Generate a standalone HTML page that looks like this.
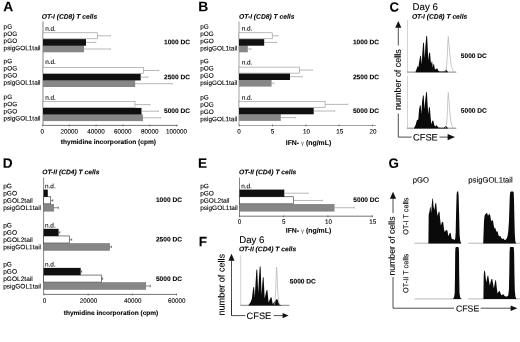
<!DOCTYPE html>
<html><head><meta charset="utf-8"><title>Figure</title>
<style>
html,body{margin:0;padding:0;background:#fff;}
body{width:520px;height:342px;overflow:hidden;font-family:'Liberation Sans', sans-serif;}
svg{display:block;font-family:"Liberation Sans",sans-serif;filter:blur(0.35px);}
</style></head><body>
<svg width="520" height="342" viewBox="0 0 520 342" font-family="'Liberation Sans', sans-serif" text-rendering="geometricPrecision">
<rect x="0" y="0" width="520" height="342" fill="#fff"/>
<text transform="translate(3.3,11.2) rotate(0.03)" font-size="13.8" font-weight="bold" font-style="normal" text-anchor="start" fill="#000"  stroke="#000" stroke-width="0.08">A</text>
<text transform="translate(41.8,18.8) rotate(0.03)" font-size="6.7" font-weight="bold" font-style="italic" text-anchor="start" fill="#000"  stroke="#000" stroke-width="0.08">OT-I (CD8) T cells</text>
<line x1="43.00" y1="21.50" x2="43.00" y2="125.40" stroke="#666" stroke-width="0.8"/>
<line x1="43.00" y1="125.40" x2="177.50" y2="125.40" stroke="#666" stroke-width="0.9"/>
<line x1="42.40" y1="124.70" x2="42.40" y2="126.40" stroke="#444" stroke-width="0.7"/>
<line x1="69.25" y1="124.70" x2="69.25" y2="126.40" stroke="#444" stroke-width="0.7"/>
<line x1="96.10" y1="124.70" x2="96.10" y2="126.40" stroke="#444" stroke-width="0.7"/>
<line x1="122.95" y1="124.70" x2="122.95" y2="126.40" stroke="#444" stroke-width="0.7"/>
<line x1="149.80" y1="124.70" x2="149.80" y2="126.40" stroke="#444" stroke-width="0.7"/>
<line x1="176.65" y1="124.70" x2="176.65" y2="126.40" stroke="#444" stroke-width="0.7"/>
<text transform="translate(3.6,28.8) rotate(0.03)" font-size="6.4" font-weight="normal" font-style="normal" text-anchor="start" fill="#000"  stroke="#000" stroke-width="0.1">pG</text>
<text transform="translate(3.6,35.95) rotate(0.03)" font-size="6.4" font-weight="normal" font-style="normal" text-anchor="start" fill="#000"  stroke="#000" stroke-width="0.1">pOG</text>
<text transform="translate(3.6,43.1) rotate(0.03)" font-size="6.4" font-weight="normal" font-style="normal" text-anchor="start" fill="#000"  stroke="#000" stroke-width="0.1">pGO</text>
<text transform="translate(3.6,50.25) rotate(0.03)" font-size="6.4" font-weight="normal" font-style="normal" text-anchor="start" fill="#000"  stroke="#000" stroke-width="0.1">psigGOL1tail</text>
<text transform="translate(45.2,30.7) rotate(0.03)" font-size="6.4" font-weight="normal" font-style="normal" text-anchor="start" fill="#000"  stroke="#000" stroke-width="0.1">n.d.</text>
<rect x="43.00" y="44.90" width="41.00" height="0.90" fill="#878787"/>
<rect x="43.00" y="45.70" width="41.00" height="6.60" fill="#878787"/>
<line x1="84.00" y1="49.00" x2="110.40" y2="49.00" stroke="#999" stroke-width="0.7"/>
<line x1="110.40" y1="48.10" x2="110.40" y2="49.90" stroke="#aaa" stroke-width="0.6"/>
<rect x="43.00" y="39.10" width="43.00" height="6.60" fill="#101010"/>
<line x1="86.00" y1="42.40" x2="95.80" y2="42.40" stroke="#999" stroke-width="0.7"/>
<line x1="95.80" y1="41.50" x2="95.80" y2="43.30" stroke="#aaa" stroke-width="0.6"/>
<rect x="43.00" y="32.80" width="54.50" height="6.00" fill="#fff" stroke="#858585" stroke-width="0.55"/>
<line x1="97.80" y1="35.80" x2="110.40" y2="35.80" stroke="#999" stroke-width="0.7"/>
<line x1="110.40" y1="34.90" x2="110.40" y2="36.70" stroke="#aaa" stroke-width="0.6"/>
<text transform="translate(164.0,44.2) rotate(0.03)" font-size="6.6" font-weight="bold" font-style="normal" text-anchor="start" fill="#000"  stroke="#000" stroke-width="0.08">1000 DC</text>
<text transform="translate(3.6,63.3) rotate(0.03)" font-size="6.4" font-weight="normal" font-style="normal" text-anchor="start" fill="#000"  stroke="#000" stroke-width="0.1">pG</text>
<text transform="translate(3.6,70.45) rotate(0.03)" font-size="6.4" font-weight="normal" font-style="normal" text-anchor="start" fill="#000"  stroke="#000" stroke-width="0.1">pOG</text>
<text transform="translate(3.6,77.6) rotate(0.03)" font-size="6.4" font-weight="normal" font-style="normal" text-anchor="start" fill="#000"  stroke="#000" stroke-width="0.1">pGO</text>
<text transform="translate(3.6,84.75) rotate(0.03)" font-size="6.4" font-weight="normal" font-style="normal" text-anchor="start" fill="#000"  stroke="#000" stroke-width="0.1">psigGOL1tail</text>
<text transform="translate(45.2,64.1) rotate(0.03)" font-size="6.4" font-weight="normal" font-style="normal" text-anchor="start" fill="#000"  stroke="#000" stroke-width="0.1">n.d.</text>
<rect x="43.00" y="79.60" width="92.20" height="0.90" fill="#878787"/>
<rect x="43.00" y="80.40" width="92.20" height="6.60" fill="#878787"/>
<line x1="135.20" y1="83.70" x2="172.30" y2="83.70" stroke="#999" stroke-width="0.7"/>
<line x1="172.30" y1="82.80" x2="172.30" y2="84.60" stroke="#aaa" stroke-width="0.6"/>
<rect x="43.00" y="73.80" width="97.70" height="6.60" fill="#101010"/>
<line x1="140.70" y1="77.10" x2="148.00" y2="77.10" stroke="#999" stroke-width="0.7"/>
<line x1="148.00" y1="76.20" x2="148.00" y2="78.00" stroke="#aaa" stroke-width="0.6"/>
<rect x="43.00" y="67.50" width="100.50" height="6.00" fill="#fff" stroke="#858585" stroke-width="0.55"/>
<line x1="143.80" y1="70.50" x2="158.90" y2="70.50" stroke="#999" stroke-width="0.7"/>
<line x1="158.90" y1="69.60" x2="158.90" y2="71.40" stroke="#aaa" stroke-width="0.6"/>
<text transform="translate(164.0,79.2) rotate(0.03)" font-size="6.6" font-weight="bold" font-style="normal" text-anchor="start" fill="#000"  stroke="#000" stroke-width="0.08">2500 DC</text>
<text transform="translate(3.6,99.1) rotate(0.03)" font-size="6.4" font-weight="normal" font-style="normal" text-anchor="start" fill="#000"  stroke="#000" stroke-width="0.1">pG</text>
<text transform="translate(3.6,106.25) rotate(0.03)" font-size="6.4" font-weight="normal" font-style="normal" text-anchor="start" fill="#000"  stroke="#000" stroke-width="0.1">pOG</text>
<text transform="translate(3.6,113.39999999999999) rotate(0.03)" font-size="6.4" font-weight="normal" font-style="normal" text-anchor="start" fill="#000"  stroke="#000" stroke-width="0.1">pGO</text>
<text transform="translate(3.6,120.55) rotate(0.03)" font-size="6.4" font-weight="normal" font-style="normal" text-anchor="start" fill="#000"  stroke="#000" stroke-width="0.1">psigGOL1tail</text>
<text transform="translate(45.2,99.8) rotate(0.03)" font-size="6.4" font-weight="normal" font-style="normal" text-anchor="start" fill="#000"  stroke="#000" stroke-width="0.1">n.d.</text>
<rect x="43.00" y="113.70" width="98.50" height="0.90" fill="#878787"/>
<rect x="43.00" y="114.50" width="100.00" height="6.60" fill="#878787"/>
<line x1="143.00" y1="117.80" x2="160.60" y2="117.80" stroke="#999" stroke-width="0.7"/>
<line x1="160.60" y1="116.90" x2="160.60" y2="118.70" stroke="#aaa" stroke-width="0.6"/>
<rect x="43.00" y="107.90" width="98.50" height="6.60" fill="#101010"/>
<line x1="141.50" y1="111.20" x2="158.50" y2="111.20" stroke="#999" stroke-width="0.7"/>
<line x1="158.50" y1="110.30" x2="158.50" y2="112.10" stroke="#aaa" stroke-width="0.6"/>
<rect x="43.00" y="101.60" width="92.00" height="6.00" fill="#fff" stroke="#858585" stroke-width="0.55"/>
<line x1="135.30" y1="104.60" x2="150.00" y2="104.60" stroke="#999" stroke-width="0.7"/>
<line x1="150.00" y1="103.70" x2="150.00" y2="105.50" stroke="#aaa" stroke-width="0.6"/>
<text transform="translate(164.0,113.1) rotate(0.03)" font-size="6.6" font-weight="bold" font-style="normal" text-anchor="start" fill="#000"  stroke="#000" stroke-width="0.08">5000 DC</text>
<text transform="translate(42.3,133.5) rotate(0.03)" font-size="6.3" font-weight="normal" font-style="normal" text-anchor="middle" fill="#000"  stroke="#000" stroke-width="0.1">0</text>
<text transform="translate(69.15,133.5) rotate(0.03)" font-size="6.3" font-weight="normal" font-style="normal" text-anchor="middle" fill="#000"  stroke="#000" stroke-width="0.1">20000</text>
<text transform="translate(96.0,133.5) rotate(0.03)" font-size="6.3" font-weight="normal" font-style="normal" text-anchor="middle" fill="#000"  stroke="#000" stroke-width="0.1">40000</text>
<text transform="translate(122.85000000000001,133.5) rotate(0.03)" font-size="6.3" font-weight="normal" font-style="normal" text-anchor="middle" fill="#000"  stroke="#000" stroke-width="0.1">60000</text>
<text transform="translate(149.7,133.5) rotate(0.03)" font-size="6.3" font-weight="normal" font-style="normal" text-anchor="middle" fill="#000"  stroke="#000" stroke-width="0.1">80000</text>
<text transform="translate(176.55,133.5) rotate(0.03)" font-size="6.3" font-weight="normal" font-style="normal" text-anchor="middle" fill="#000"  stroke="#000" stroke-width="0.1">100000</text>
<text transform="translate(108.4,144.1) rotate(0.03)" font-size="6.6" font-weight="bold" font-style="normal" text-anchor="middle" fill="#000"  stroke="#000" stroke-width="0.08">thymidine incorporation (cpm)</text>
<text transform="translate(198.3,11.3) rotate(0.03)" font-size="13.8" font-weight="bold" font-style="normal" text-anchor="start" fill="#000"  stroke="#000" stroke-width="0.08">B</text>
<text transform="translate(239.0,18.8) rotate(0.03)" font-size="6.7" font-weight="bold" font-style="italic" text-anchor="start" fill="#000"  stroke="#000" stroke-width="0.08">OT-I (CD8) T cells</text>
<line x1="239.00" y1="21.50" x2="239.00" y2="125.30" stroke="#8a8a8a" stroke-width="0.8"/>
<line x1="239.00" y1="125.50" x2="376.00" y2="125.50" stroke="#999" stroke-width="0.9"/>
<line x1="239.20" y1="124.60" x2="239.20" y2="126.30" stroke="#444" stroke-width="0.7"/>
<line x1="272.50" y1="124.60" x2="272.50" y2="126.30" stroke="#444" stroke-width="0.7"/>
<line x1="305.80" y1="124.60" x2="305.80" y2="126.30" stroke="#444" stroke-width="0.7"/>
<line x1="339.10" y1="124.60" x2="339.10" y2="126.30" stroke="#444" stroke-width="0.7"/>
<line x1="372.40" y1="124.60" x2="372.40" y2="126.30" stroke="#444" stroke-width="0.7"/>
<text transform="translate(200.3,28.7) rotate(0.03)" font-size="6.4" font-weight="normal" font-style="normal" text-anchor="start" fill="#000"  stroke="#000" stroke-width="0.1">pG</text>
<text transform="translate(200.3,35.95) rotate(0.03)" font-size="6.4" font-weight="normal" font-style="normal" text-anchor="start" fill="#000"  stroke="#000" stroke-width="0.1">pOG</text>
<text transform="translate(200.3,43.2) rotate(0.03)" font-size="6.4" font-weight="normal" font-style="normal" text-anchor="start" fill="#000"  stroke="#000" stroke-width="0.1">pGO</text>
<text transform="translate(200.3,50.45) rotate(0.03)" font-size="6.4" font-weight="normal" font-style="normal" text-anchor="start" fill="#000"  stroke="#000" stroke-width="0.1">psigGOL1tail</text>
<text transform="translate(241.7,30.4) rotate(0.03)" font-size="6.4" font-weight="normal" font-style="normal" text-anchor="start" fill="#000"  stroke="#000" stroke-width="0.1">n.d.</text>
<rect x="239.00" y="44.90" width="8.80" height="0.90" fill="#878787"/>
<rect x="239.00" y="45.70" width="8.80" height="6.60" fill="#878787"/>
<line x1="247.80" y1="49.00" x2="251.00" y2="49.00" stroke="#999" stroke-width="0.7"/>
<line x1="251.00" y1="48.10" x2="251.00" y2="49.90" stroke="#aaa" stroke-width="0.6"/>
<rect x="239.00" y="39.10" width="25.20" height="6.60" fill="#101010"/>
<line x1="264.20" y1="42.40" x2="276.70" y2="42.40" stroke="#999" stroke-width="0.7"/>
<line x1="276.70" y1="41.50" x2="276.70" y2="43.30" stroke="#aaa" stroke-width="0.6"/>
<rect x="239.00" y="32.80" width="33.20" height="6.00" fill="#fff" stroke="#858585" stroke-width="0.55"/>
<line x1="272.50" y1="35.80" x2="278.00" y2="35.80" stroke="#999" stroke-width="0.7"/>
<line x1="278.00" y1="34.90" x2="278.00" y2="36.70" stroke="#aaa" stroke-width="0.6"/>
<text transform="translate(352.9,44.2) rotate(0.03)" font-size="6.6" font-weight="bold" font-style="normal" text-anchor="start" fill="#000"  stroke="#000" stroke-width="0.08">1000 DC</text>
<text transform="translate(200.3,63.3) rotate(0.03)" font-size="6.4" font-weight="normal" font-style="normal" text-anchor="start" fill="#000"  stroke="#000" stroke-width="0.1">pG</text>
<text transform="translate(200.3,70.55) rotate(0.03)" font-size="6.4" font-weight="normal" font-style="normal" text-anchor="start" fill="#000"  stroke="#000" stroke-width="0.1">pOG</text>
<text transform="translate(200.3,77.8) rotate(0.03)" font-size="6.4" font-weight="normal" font-style="normal" text-anchor="start" fill="#000"  stroke="#000" stroke-width="0.1">pGO</text>
<text transform="translate(200.3,85.05) rotate(0.03)" font-size="6.4" font-weight="normal" font-style="normal" text-anchor="start" fill="#000"  stroke="#000" stroke-width="0.1">psigGOL1tail</text>
<text transform="translate(241.7,64.5) rotate(0.03)" font-size="6.4" font-weight="normal" font-style="normal" text-anchor="start" fill="#000"  stroke="#000" stroke-width="0.1">n.d.</text>
<rect x="239.00" y="79.20" width="32.60" height="0.90" fill="#878787"/>
<rect x="239.00" y="80.00" width="32.60" height="6.60" fill="#878787"/>
<line x1="271.60" y1="83.30" x2="273.70" y2="83.30" stroke="#999" stroke-width="0.7"/>
<line x1="273.70" y1="82.40" x2="273.70" y2="84.20" stroke="#aaa" stroke-width="0.6"/>
<rect x="239.00" y="73.40" width="51.00" height="6.60" fill="#101010"/>
<line x1="290.00" y1="76.70" x2="302.10" y2="76.70" stroke="#999" stroke-width="0.7"/>
<line x1="302.10" y1="75.80" x2="302.10" y2="77.60" stroke="#aaa" stroke-width="0.6"/>
<rect x="239.00" y="67.10" width="60.40" height="6.00" fill="#fff" stroke="#858585" stroke-width="0.55"/>
<line x1="299.70" y1="70.10" x2="312.30" y2="70.10" stroke="#999" stroke-width="0.7"/>
<line x1="312.30" y1="69.20" x2="312.30" y2="71.00" stroke="#aaa" stroke-width="0.6"/>
<text transform="translate(352.9,79.2) rotate(0.03)" font-size="6.6" font-weight="bold" font-style="normal" text-anchor="start" fill="#000"  stroke="#000" stroke-width="0.08">2500 DC</text>
<text transform="translate(200.3,99.6) rotate(0.03)" font-size="6.4" font-weight="normal" font-style="normal" text-anchor="start" fill="#000"  stroke="#000" stroke-width="0.1">pG</text>
<text transform="translate(200.3,106.85) rotate(0.03)" font-size="6.4" font-weight="normal" font-style="normal" text-anchor="start" fill="#000"  stroke="#000" stroke-width="0.1">pOG</text>
<text transform="translate(200.3,114.1) rotate(0.03)" font-size="6.4" font-weight="normal" font-style="normal" text-anchor="start" fill="#000"  stroke="#000" stroke-width="0.1">pGO</text>
<text transform="translate(200.3,121.35) rotate(0.03)" font-size="6.4" font-weight="normal" font-style="normal" text-anchor="start" fill="#000"  stroke="#000" stroke-width="0.1">psigGOL1tail</text>
<text transform="translate(241.7,99.8) rotate(0.03)" font-size="6.4" font-weight="normal" font-style="normal" text-anchor="start" fill="#000"  stroke="#000" stroke-width="0.1">n.d.</text>
<rect x="239.00" y="113.50" width="41.80" height="0.90" fill="#878787"/>
<rect x="239.00" y="114.30" width="41.80" height="6.60" fill="#878787"/>
<line x1="280.80" y1="117.60" x2="295.50" y2="117.60" stroke="#999" stroke-width="0.7"/>
<line x1="295.50" y1="116.70" x2="295.50" y2="118.50" stroke="#aaa" stroke-width="0.6"/>
<rect x="239.00" y="107.70" width="74.70" height="6.60" fill="#101010"/>
<line x1="313.70" y1="111.00" x2="334.60" y2="111.00" stroke="#999" stroke-width="0.7"/>
<line x1="334.60" y1="110.10" x2="334.60" y2="111.90" stroke="#aaa" stroke-width="0.6"/>
<rect x="239.00" y="101.40" width="86.10" height="6.00" fill="#fff" stroke="#858585" stroke-width="0.55"/>
<line x1="325.40" y1="104.40" x2="347.80" y2="104.40" stroke="#999" stroke-width="0.7"/>
<line x1="347.80" y1="103.50" x2="347.80" y2="105.30" stroke="#aaa" stroke-width="0.6"/>
<text transform="translate(352.9,113.1) rotate(0.03)" font-size="6.6" font-weight="bold" font-style="normal" text-anchor="start" fill="#000"  stroke="#000" stroke-width="0.08">5000 DC</text>
<text transform="translate(239.1,133.4) rotate(0.03)" font-size="6.3" font-weight="normal" font-style="normal" text-anchor="middle" fill="#000"  stroke="#000" stroke-width="0.1">0</text>
<text transform="translate(272.4,133.4) rotate(0.03)" font-size="6.3" font-weight="normal" font-style="normal" text-anchor="middle" fill="#000"  stroke="#000" stroke-width="0.1">5</text>
<text transform="translate(306.4,133.4) rotate(0.03)" font-size="6.3" font-weight="normal" font-style="normal" text-anchor="middle" fill="#000"  stroke="#000" stroke-width="0.1">10</text>
<text transform="translate(339.7,133.4) rotate(0.03)" font-size="6.3" font-weight="normal" font-style="normal" text-anchor="middle" fill="#000"  stroke="#000" stroke-width="0.1">15</text>
<text transform="translate(372.99999999999994,133.4) rotate(0.03)" font-size="6.3" font-weight="normal" font-style="normal" text-anchor="middle" fill="#000"  stroke="#000" stroke-width="0.1">20</text>
<text transform="translate(308.5,145.0) rotate(0.03)" font-size="6.9" font-weight="bold" font-style="normal" text-anchor="middle" fill="#000"  stroke="#000" stroke-width="0.08">IFN- <tspan font-weight="normal" font-size="6" fill="#555" stroke="none">γ</tspan> (ng/mL)</text>
<text transform="translate(389.4,11.6) rotate(0.03)" font-size="13.2" font-weight="bold" font-style="normal" text-anchor="start" fill="#000"  stroke="#000" stroke-width="0.08">C</text>
<text transform="translate(412.5,10.1) rotate(0.03)" font-size="9.7" font-weight="normal" font-style="normal" text-anchor="start" fill="#000"  stroke="#000" stroke-width="0.1">Day 6</text>
<text transform="translate(411.9,18.8) rotate(0.03)" font-size="6.7" font-weight="bold" font-style="italic" text-anchor="start" fill="#000"  stroke="#000" stroke-width="0.08">OT-I (CD8) T cells</text>
<polygon points="398.3,21.0 395.2,27.7 401.40000000000003,27.7" fill="#111"/>
<line x1="398.30" y1="27.20" x2="398.30" y2="45.50" stroke="#222" stroke-width="0.8"/>
<text transform="translate(400.7,109.9) rotate(-89.97)" font-size="8.95" font-weight="normal" fill="#000" stroke="#000" stroke-width="0.1">number of cells</text>
<polyline points="398.3,113.5 398.3,137.1 411.6,137.1" fill="none" stroke="#222" stroke-width="0.8"/>
<text transform="translate(413.0,140.5) rotate(0.03)" font-size="9.3" font-weight="normal" font-style="normal" text-anchor="start" fill="#000"  stroke="#000" stroke-width="0.1">CFSE</text>
<line x1="439.50" y1="137.10" x2="448.10" y2="137.10" stroke="#222" stroke-width="0.8"/>
<polygon points="455.0,137.1 447.6,133.9 447.6,140.29999999999998" fill="#111"/>
<line x1="407.50" y1="20.00" x2="407.50" y2="72.10" stroke="#c0c0c0" stroke-width="0.7"/>
<line x1="407.00" y1="72.10" x2="456.30" y2="72.10" stroke="#666" stroke-width="0.8"/>
<polygon points="415.4,72.3 416.6,69.0 417.6,66.0 418.4,67.2 419.3,61.0 420.2,56.0 420.9,55.6 421.7,64.5 422.3,54.0 423.1,43.0 423.9,42.4 424.7,58.5 425.4,46.0 426.3,36.2 427.1,35.8 427.9,52.0 428.5,60.5 429.1,53.0 430.0,52.2 430.8,62.0 431.4,63.6 432.0,60.3 432.8,67.5 433.4,64.2 434.0,64.0 434.8,68.8 435.7,69.6 436.6,68.4 437.4,68.6 438.2,70.6 439.5,71.4 444.0,71.5 445.1,70.6 446.0,69.6 447.1,70.8 448.1,72.3" fill="#0a0a0a"/>
<polyline points="445.0,71.9 446.3,69.5 447.2,58.0 447.8,43.5 448.3,36.6 448.9,43.5 449.8,54.0 451.2,65.0 452.6,69.8 454.4,71.9" fill="none" stroke="#b2b2b2" stroke-width="0.7" stroke-linejoin="round"/>
<text transform="translate(460.8,58.0) rotate(0.03)" font-size="6.6" font-weight="bold" font-style="normal" text-anchor="start" fill="#000"  stroke="#000" stroke-width="0.08">5000 DC</text>
<line x1="407.50" y1="75.80" x2="407.50" y2="128.20" stroke="#c0c0c0" stroke-width="0.7"/>
<line x1="407.00" y1="128.20" x2="456.30" y2="128.20" stroke="#666" stroke-width="0.8"/>
<polygon points="413.8,128.4 415.6,125.0 416.9,120.3 418.3,119.4 419.1,109.5 419.9,105.4 420.7,105.2 421.4,114.0 422.0,103.0 422.9,95.8 423.7,95.3 424.5,109.0 425.2,100.5 426.1,92.5 426.9,92.1 427.7,106.0 428.3,114.5 428.9,107.5 429.8,106.9 430.5,116.0 431.3,124.2 432.3,121.0 433.2,120.3 434.3,125.2 435.4,126.6 436.3,125.3 437.0,125.5 438.0,127.2 439.7,127.7 443.8,127.7 445.0,126.7 445.9,125.7 447.0,127.0 448.1,128.4" fill="#0a0a0a"/>
<polyline points="445.4,128.0 446.5,125.5 447.3,114.0 447.8,99.5 448.3,92.6 448.9,99.5 449.7,110.0 450.8,121.0 452.0,125.8 453.6,128.0" fill="none" stroke="#b2b2b2" stroke-width="0.7" stroke-linejoin="round"/>
<text transform="translate(460.8,112.8) rotate(0.03)" font-size="6.6" font-weight="bold" font-style="normal" text-anchor="start" fill="#000"  stroke="#000" stroke-width="0.08">5000 DC</text>
<text transform="translate(2.8,167.7) rotate(0.03)" font-size="13.6" font-weight="bold" font-style="normal" text-anchor="start" fill="#000"  stroke="#000" stroke-width="0.08">D</text>
<text transform="translate(42.2,174.2) rotate(0.03)" font-size="6.7" font-weight="bold" font-style="italic" text-anchor="start" fill="#000"  stroke="#000" stroke-width="0.08">OT-II (CD4) T cells</text>
<line x1="43.60" y1="177.50" x2="43.60" y2="294.40" stroke="#666" stroke-width="0.8"/>
<line x1="43.60" y1="294.40" x2="177.00" y2="294.40" stroke="#666" stroke-width="0.9"/>
<line x1="44.00" y1="293.70" x2="44.00" y2="295.40" stroke="#444" stroke-width="0.7"/>
<line x1="88.15" y1="293.70" x2="88.15" y2="295.40" stroke="#444" stroke-width="0.7"/>
<line x1="132.30" y1="293.70" x2="132.30" y2="295.40" stroke="#444" stroke-width="0.7"/>
<line x1="176.45" y1="293.70" x2="176.45" y2="295.40" stroke="#444" stroke-width="0.7"/>
<text transform="translate(3.2,188.2) rotate(0.03)" font-size="6.55" font-weight="normal" font-style="normal" text-anchor="start" fill="#000"  stroke="#000" stroke-width="0.1">pG</text>
<text transform="translate(3.2,195.5) rotate(0.03)" font-size="6.55" font-weight="normal" font-style="normal" text-anchor="start" fill="#000"  stroke="#000" stroke-width="0.1">pGO</text>
<text transform="translate(3.2,202.79999999999998) rotate(0.03)" font-size="6.55" font-weight="normal" font-style="normal" text-anchor="start" fill="#000"  stroke="#000" stroke-width="0.1">pGOL2tail</text>
<text transform="translate(3.2,210.1) rotate(0.03)" font-size="6.55" font-weight="normal" font-style="normal" text-anchor="start" fill="#000"  stroke="#000" stroke-width="0.1">psigGOL1tail</text>
<text transform="translate(45.0,188.2) rotate(0.03)" font-size="6.4" font-weight="normal" font-style="normal" text-anchor="start" fill="#000"  stroke="#000" stroke-width="0.1">n.d.</text>
<rect x="43.60" y="204.30" width="10.20" height="6.85" fill="#868686" stroke="#6a6a6a" stroke-width="0.5"/>
<line x1="54.00" y1="207.72" x2="58.30" y2="207.72" stroke="#555" stroke-width="0.7"/>
<line x1="58.30" y1="206.53" x2="58.30" y2="208.92" stroke="#333" stroke-width="0.6"/>
<rect x="43.60" y="196.75" width="7.10" height="7.05" fill="#fff" stroke="#3a3a3a" stroke-width="0.65"/>
<line x1="51.00" y1="200.47" x2="52.80" y2="200.47" stroke="#555" stroke-width="0.7"/>
<line x1="52.80" y1="199.28" x2="52.80" y2="201.67" stroke="#333" stroke-width="0.6"/>
<rect x="43.60" y="189.60" width="4.20" height="7.25" fill="#101010"/>
<text transform="translate(155.9,202.0) rotate(0.03)" font-size="6.6" font-weight="bold" font-style="normal" text-anchor="start" fill="#000"  stroke="#000" stroke-width="0.08">1000 DC</text>
<text transform="translate(3.2,227.4) rotate(0.03)" font-size="6.55" font-weight="normal" font-style="normal" text-anchor="start" fill="#000"  stroke="#000" stroke-width="0.1">pG</text>
<text transform="translate(3.2,234.70000000000002) rotate(0.03)" font-size="6.55" font-weight="normal" font-style="normal" text-anchor="start" fill="#000"  stroke="#000" stroke-width="0.1">pGO</text>
<text transform="translate(3.2,242.0) rotate(0.03)" font-size="6.55" font-weight="normal" font-style="normal" text-anchor="start" fill="#000"  stroke="#000" stroke-width="0.1">pGOL2tail</text>
<text transform="translate(3.2,249.3) rotate(0.03)" font-size="6.55" font-weight="normal" font-style="normal" text-anchor="start" fill="#000"  stroke="#000" stroke-width="0.1">psigGOL1tail</text>
<text transform="translate(45.0,227.4) rotate(0.03)" font-size="6.4" font-weight="normal" font-style="normal" text-anchor="start" fill="#000"  stroke="#000" stroke-width="0.1">n.d.</text>
<rect x="43.60" y="243.50" width="66.10" height="6.85" fill="#868686" stroke="#6a6a6a" stroke-width="0.5"/>
<line x1="109.90" y1="246.93" x2="111.40" y2="246.93" stroke="#555" stroke-width="0.7"/>
<line x1="111.40" y1="245.73" x2="111.40" y2="248.12" stroke="#333" stroke-width="0.6"/>
<rect x="43.60" y="235.95" width="25.70" height="7.05" fill="#fff" stroke="#3a3a3a" stroke-width="0.65"/>
<line x1="69.60" y1="239.68" x2="71.70" y2="239.68" stroke="#555" stroke-width="0.7"/>
<line x1="71.70" y1="238.48" x2="71.70" y2="240.88" stroke="#333" stroke-width="0.6"/>
<rect x="43.60" y="228.80" width="15.00" height="7.25" fill="#101010"/>
<line x1="58.60" y1="232.43" x2="59.80" y2="232.43" stroke="#555" stroke-width="0.7"/>
<line x1="59.80" y1="231.23" x2="59.80" y2="233.62" stroke="#333" stroke-width="0.6"/>
<text transform="translate(155.9,241.5) rotate(0.03)" font-size="6.6" font-weight="bold" font-style="normal" text-anchor="start" fill="#000"  stroke="#000" stroke-width="0.08">2500 DC</text>
<text transform="translate(3.2,266.5) rotate(0.03)" font-size="6.55" font-weight="normal" font-style="normal" text-anchor="start" fill="#000"  stroke="#000" stroke-width="0.1">pG</text>
<text transform="translate(3.2,273.8) rotate(0.03)" font-size="6.55" font-weight="normal" font-style="normal" text-anchor="start" fill="#000"  stroke="#000" stroke-width="0.1">pGO</text>
<text transform="translate(3.2,281.1) rotate(0.03)" font-size="6.55" font-weight="normal" font-style="normal" text-anchor="start" fill="#000"  stroke="#000" stroke-width="0.1">pGOL2tail</text>
<text transform="translate(3.2,288.4) rotate(0.03)" font-size="6.55" font-weight="normal" font-style="normal" text-anchor="start" fill="#000"  stroke="#000" stroke-width="0.1">psigGOL1tail</text>
<text transform="translate(45.0,266.5) rotate(0.03)" font-size="6.4" font-weight="normal" font-style="normal" text-anchor="start" fill="#000"  stroke="#000" stroke-width="0.1">n.d.</text>
<rect x="43.60" y="282.60" width="102.20" height="6.85" fill="#868686" stroke="#6a6a6a" stroke-width="0.5"/>
<line x1="146.00" y1="286.02" x2="150.30" y2="286.02" stroke="#555" stroke-width="0.7"/>
<line x1="150.30" y1="284.82" x2="150.30" y2="287.22" stroke="#333" stroke-width="0.6"/>
<rect x="43.60" y="275.05" width="57.80" height="7.05" fill="#fff" stroke="#3a3a3a" stroke-width="0.65"/>
<line x1="101.70" y1="278.77" x2="102.60" y2="278.77" stroke="#555" stroke-width="0.7"/>
<line x1="102.60" y1="277.57" x2="102.60" y2="279.97" stroke="#333" stroke-width="0.6"/>
<rect x="43.60" y="267.90" width="37.10" height="7.25" fill="#101010"/>
<line x1="80.70" y1="271.52" x2="81.60" y2="271.52" stroke="#555" stroke-width="0.7"/>
<line x1="81.60" y1="270.32" x2="81.60" y2="272.72" stroke="#333" stroke-width="0.6"/>
<text transform="translate(155.9,280.9) rotate(0.03)" font-size="6.6" font-weight="bold" font-style="normal" text-anchor="start" fill="#000"  stroke="#000" stroke-width="0.08">5000 DC</text>
<text transform="translate(44.4,302.8) rotate(0.03)" font-size="6.3" font-weight="normal" font-style="normal" text-anchor="middle" fill="#000"  stroke="#000" stroke-width="0.1">0</text>
<text transform="translate(88.55,302.8) rotate(0.03)" font-size="6.3" font-weight="normal" font-style="normal" text-anchor="middle" fill="#000"  stroke="#000" stroke-width="0.1">20000</text>
<text transform="translate(132.7,302.8) rotate(0.03)" font-size="6.3" font-weight="normal" font-style="normal" text-anchor="middle" fill="#000"  stroke="#000" stroke-width="0.1">40000</text>
<text transform="translate(176.85,302.8) rotate(0.03)" font-size="6.3" font-weight="normal" font-style="normal" text-anchor="middle" fill="#000"  stroke="#000" stroke-width="0.1">60000</text>
<text transform="translate(111.0,315) rotate(0.03)" font-size="6.55" font-weight="bold" font-style="normal" text-anchor="middle" fill="#000"  stroke="#000" stroke-width="0.08">thymidine incorporation (cpm)</text>
<text transform="translate(198.0,167.7) rotate(0.03)" font-size="13.6" font-weight="bold" font-style="normal" text-anchor="start" fill="#000"  stroke="#000" stroke-width="0.08">E</text>
<text transform="translate(239.0,174.2) rotate(0.03)" font-size="6.7" font-weight="bold" font-style="italic" text-anchor="start" fill="#000"  stroke="#000" stroke-width="0.08">OT-II (CD4) T cells</text>
<line x1="239.50" y1="177.50" x2="239.50" y2="216.20" stroke="#666" stroke-width="0.8"/>
<line x1="239.50" y1="216.20" x2="373.00" y2="216.20" stroke="#666" stroke-width="0.9"/>
<line x1="239.50" y1="215.50" x2="239.50" y2="217.20" stroke="#444" stroke-width="0.7"/>
<line x1="283.70" y1="215.50" x2="283.70" y2="217.20" stroke="#444" stroke-width="0.7"/>
<line x1="327.90" y1="215.50" x2="327.90" y2="217.20" stroke="#444" stroke-width="0.7"/>
<line x1="372.10" y1="215.50" x2="372.10" y2="217.20" stroke="#444" stroke-width="0.7"/>
<text transform="translate(200.2,188.2) rotate(0.03)" font-size="6.5" font-weight="normal" font-style="normal" text-anchor="start" fill="#000"  stroke="#000" stroke-width="0.1">pG</text>
<text transform="translate(200.2,195.5) rotate(0.03)" font-size="6.5" font-weight="normal" font-style="normal" text-anchor="start" fill="#000"  stroke="#000" stroke-width="0.1">pGO</text>
<text transform="translate(200.2,202.79999999999998) rotate(0.03)" font-size="6.5" font-weight="normal" font-style="normal" text-anchor="start" fill="#000"  stroke="#000" stroke-width="0.1">pGOL2tail</text>
<text transform="translate(200.2,210.1) rotate(0.03)" font-size="6.5" font-weight="normal" font-style="normal" text-anchor="start" fill="#000"  stroke="#000" stroke-width="0.1">psigGOL1tail</text>
<text transform="translate(241.2,188.2) rotate(0.03)" font-size="6.4" font-weight="normal" font-style="normal" text-anchor="start" fill="#000"  stroke="#000" stroke-width="0.1">n.d.</text>
<rect x="239.50" y="204.30" width="94.60" height="6.85" fill="#868686" stroke="#6a6a6a" stroke-width="0.5"/>
<line x1="334.30" y1="207.72" x2="354.40" y2="207.72" stroke="#999" stroke-width="0.7"/>
<line x1="354.40" y1="206.82" x2="354.40" y2="208.62" stroke="#aaa" stroke-width="0.6"/>
<rect x="239.50" y="196.75" width="53.80" height="7.05" fill="#fff" stroke="#3a3a3a" stroke-width="0.65"/>
<line x1="293.60" y1="200.47" x2="322.60" y2="200.47" stroke="#999" stroke-width="0.7"/>
<line x1="322.60" y1="199.57" x2="322.60" y2="201.38" stroke="#aaa" stroke-width="0.6"/>
<rect x="239.50" y="189.60" width="44.80" height="7.25" fill="#101010"/>
<line x1="284.30" y1="193.22" x2="307.90" y2="193.22" stroke="#999" stroke-width="0.7"/>
<line x1="307.90" y1="192.32" x2="307.90" y2="194.12" stroke="#aaa" stroke-width="0.6"/>
<text transform="translate(353.3,202.1) rotate(0.03)" font-size="6.6" font-weight="bold" font-style="normal" text-anchor="start" fill="#000"  stroke="#000" stroke-width="0.08">5000 DC</text>
<text transform="translate(239.5,223.7) rotate(0.03)" font-size="6.3" font-weight="normal" font-style="normal" text-anchor="middle" fill="#000"  stroke="#000" stroke-width="0.1">0</text>
<text transform="translate(283.7,223.7) rotate(0.03)" font-size="6.3" font-weight="normal" font-style="normal" text-anchor="middle" fill="#000"  stroke="#000" stroke-width="0.1">5</text>
<text transform="translate(328.59999999999997,223.7) rotate(0.03)" font-size="6.3" font-weight="normal" font-style="normal" text-anchor="middle" fill="#000"  stroke="#000" stroke-width="0.1">10</text>
<text transform="translate(372.8,223.7) rotate(0.03)" font-size="6.3" font-weight="normal" font-style="normal" text-anchor="middle" fill="#000"  stroke="#000" stroke-width="0.1">15</text>
<text transform="translate(308.5,232.8) rotate(0.03)" font-size="6.9" font-weight="bold" font-style="normal" text-anchor="middle" fill="#000"  stroke="#000" stroke-width="0.08">IFN- <tspan font-weight="normal" font-size="6" fill="#555" stroke="none">γ</tspan> (ng/mL)</text>
<text transform="translate(198.8,246.3) rotate(0.03)" font-size="13.6" font-weight="bold" font-style="normal" text-anchor="start" fill="#000"  stroke="#000" stroke-width="0.08">F</text>
<text transform="translate(239.2,243.1) rotate(0.03)" font-size="9.7" font-weight="normal" font-style="normal" text-anchor="start" fill="#000"  stroke="#000" stroke-width="0.1">Day 6</text>
<text transform="translate(238.9,251.3) rotate(0.03)" font-size="6.7" font-weight="bold" font-style="italic" text-anchor="start" fill="#000"  stroke="#000" stroke-width="0.08">OT-II (CD4) T cells</text>
<polygon points="231.5,253.8 228.4,260.8 234.6,260.8" fill="#111"/>
<line x1="231.50" y1="260.30" x2="231.50" y2="315.60" stroke="#222" stroke-width="0.8"/>
<polyline points="231.5,300 231.5,315.6 245.3,315.6" fill="none" stroke="#222" stroke-width="0.8"/>
<text transform="translate(224.5,315.5) rotate(-89.97)" font-size="9.08" font-weight="normal" fill="#000" stroke="#000" stroke-width="0.1">number of cells</text>
<text transform="translate(246.5,319.0) rotate(0.03)" font-size="9.3" font-weight="normal" font-style="normal" text-anchor="start" fill="#000"  stroke="#000" stroke-width="0.1">CFSE</text>
<line x1="273.70" y1="315.60" x2="283.10" y2="315.60" stroke="#222" stroke-width="0.8"/>
<polygon points="288.6,315.6 282.6,313.0 282.6,318.20000000000005" fill="#111"/>
<line x1="240.70" y1="255.10" x2="240.70" y2="305.20" stroke="#c0c0c0" stroke-width="0.7"/>
<line x1="240.40" y1="305.30" x2="289.40" y2="305.30" stroke="#666" stroke-width="0.8"/>
<polygon points="248.2,305.5 250.4,302.5 251.9,298.8 252.9,290.0 253.5,287.0 254.1,287.0 254.8,297.0 255.5,284.0 256.4,269.8 257.2,269.4 258.2,293.0 258.9,279.0 259.8,266.6 260.6,266.4 261.6,295.0 262.3,284.0 262.9,277.3 263.6,277.2 264.7,298.5 265.8,293.0 266.7,290.0 267.4,290.0 268.6,302.5 269.8,299.5 270.8,297.3 271.5,297.3 272.7,304.0 274.6,301.7 276.5,299.2 277.4,299.2 278.5,302.5 279.9,304.7 281.7,305.5" fill="#0a0a0a"/>
<polyline points="274.2,304.9 275.0,302.0 275.7,290.0 276.2,274.0 276.6,267.2 277.1,274.0 277.6,288.0 278.4,300.0 279.4,304.9" fill="none" stroke="#b2b2b2" stroke-width="0.7" stroke-linejoin="round"/>
<text transform="translate(289.8,283.6) rotate(0.03)" font-size="6.6" font-weight="bold" font-style="normal" text-anchor="start" fill="#000"  stroke="#000" stroke-width="0.08">5000 DC</text>
<text transform="translate(388.6,167.8) rotate(0.03)" font-size="13.4" font-weight="bold" font-style="normal" text-anchor="start" fill="#000"  stroke="#000" stroke-width="0.08">G</text>
<text transform="translate(412.8,182.5) rotate(0.03)" font-size="7.7" font-weight="normal" font-style="normal" text-anchor="start" fill="#000"  stroke="#000" stroke-width="0.1">pGO</text>
<text transform="translate(468.3,182.5) rotate(0.03)" font-size="7.7" font-weight="normal" font-style="normal" text-anchor="start" fill="#000"  stroke="#000" stroke-width="0.1">psigGOL1tail</text>
<polygon points="393.0,191.7 389.95,198.8 396.05,198.8" fill="#111"/>
<line x1="393.00" y1="198.30" x2="393.00" y2="213.00" stroke="#222" stroke-width="0.8"/>
<text transform="translate(394.7,275.6) rotate(-89.97)" font-size="8.72" font-weight="normal" fill="#000" stroke="#000" stroke-width="0.1">number of cells</text>
<polyline points="393.0,277 393.0,308.2 454,308.2" fill="none" stroke="#222" stroke-width="0.8"/>
<text transform="translate(456.0,311.6) rotate(0.03)" font-size="8.7" font-weight="normal" font-style="normal" text-anchor="start" fill="#000"  stroke="#000" stroke-width="0.1">CFSE</text>
<line x1="480.60" y1="308.20" x2="511.10" y2="308.20" stroke="#222" stroke-width="0.8"/>
<polygon points="517.4,308.2 510.6,305.4 510.6,311.0" fill="#111"/>
<text transform="translate(408.2,234.7) rotate(-89.97)" font-size="7.3" font-weight="normal" fill="#000" stroke="#000" stroke-width="0.1">OT-I T cells</text>
<text transform="translate(408.2,292.9) rotate(-89.97)" font-size="7.3" font-weight="normal" fill="#000" stroke="#000" stroke-width="0.1">OT-II T cells</text>
<line x1="414.50" y1="243.20" x2="461.50" y2="243.20" stroke="#999" stroke-width="0.7"/>
<line x1="468.30" y1="243.20" x2="520.00" y2="243.20" stroke="#999" stroke-width="0.7"/>
<line x1="414.50" y1="298.90" x2="461.50" y2="298.90" stroke="#999" stroke-width="0.7"/>
<line x1="468.30" y1="298.90" x2="520.00" y2="298.90" stroke="#999" stroke-width="0.7"/>
<polygon points="428.4,243.4 428.7,214.5 429.4,212.0 430.0,207.4 430.6,207.0 431.2,213.0 431.9,203.0 432.4,198.6 432.9,198.4 433.6,207.0 434.4,210.0 435.2,204.0 435.7,203.0 436.2,203.2 437.0,212.0 437.6,216.0 438.4,212.5 439.0,211.6 439.5,211.8 440.3,221.0 440.9,225.5 441.8,222.5 442.6,221.8 443.2,222.2 444.0,229.0 444.6,232.0 445.6,230.5 446.8,230.0 447.4,230.4 448.1,234.5 448.6,236.2 449.4,233.6 450.1,232.8 450.7,233.2 451.4,237.5 452.0,239.2 453.0,239.0 454.4,240.0 455.2,239.0 455.7,232.0 456.1,212.0 456.6,195.0 457.0,191.6 458.2,191.6 458.6,195.0 459.1,214.0 459.6,235.0 460.3,241.0 461.2,243.4" fill="#0a0a0a"/>
<polygon points="483.2,243.4 483.6,232.0 484.0,221.0 484.6,215.6 485.4,214.2 486.4,213.0 487.2,213.2 488.0,215.8 488.8,214.4 489.5,213.8 490.2,215.5 491.0,220.0 491.6,221.2 492.4,220.0 493.0,220.8 493.8,226.0 494.6,228.6 495.4,228.0 496.0,230.5 496.8,231.8 497.6,231.6 498.4,235.0 499.2,236.2 500.4,236.0 501.2,238.0 502.4,239.0 503.6,238.6 504.6,240.0 505.8,239.8 506.8,238.2 507.6,236.0 508.3,231.0 508.9,222.0 509.4,208.0 509.8,196.0 510.2,192.2 510.8,191.4 513.2,191.4 513.7,192.4 514.0,200.0 514.4,218.0 514.8,234.0 515.3,241.2 516.2,243.4" fill="#0a0a0a"/>
<polygon points="452.8,299.1 454.0,297.6 454.7,293.0 455.0,275.0 455.2,252.0 455.5,247.4 456.2,246.9 458.0,246.9 458.7,247.4 459.0,252.0 459.2,275.0 459.5,293.0 460.2,297.6 461.4,299.1" fill="#0a0a0a"/>
<polygon points="483.4,299.1 483.7,276.0 484.1,271.2 484.6,270.2 485.1,272.0 485.7,278.0 486.3,282.5 487.0,278.5 487.6,275.8 488.2,275.6 488.9,280.0 489.8,285.5 490.7,281.5 491.5,279.0 492.2,279.0 493.0,283.5 493.9,288.5 494.7,283.5 495.4,280.2 496.0,280.2 496.7,287.0 497.5,293.4 498.4,292.0 499.2,290.9 499.8,291.2 500.6,293.5 501.5,295.2 502.6,294.4 503.4,294.2 504.4,295.8 505.6,296.4 507.0,296.6 508.2,295.4 508.9,290.0 509.3,272.0 509.6,252.0 509.9,247.6 510.6,246.9 513.2,246.9 513.8,247.6 514.1,252.0 514.4,272.0 514.8,290.0 515.4,296.4 516.4,299.1" fill="#0a0a0a"/>
</svg>
</body></html>
